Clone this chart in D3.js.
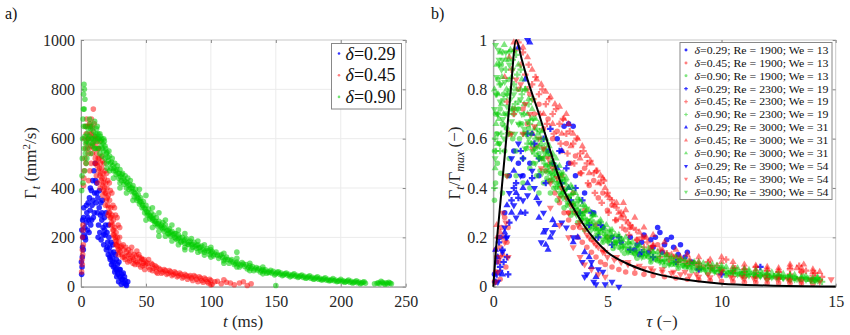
<!DOCTYPE html>
<html lang="en">
<head>
  <meta charset="UTF-8" />
  <title>Circulation vs time</title>
  <script src="https://d3js.org/d3.v7.min.js"></script>
  <style>
    body { margin: 0; background: #fff; }
    svg, svg text { font-family: "Liberation Serif", "DejaVu Serif", "Times New Roman", serif; }
    .tick text { font-size: 16px; fill: #262626; }
    .tick line { stroke: #888; }
    .domain { stroke: #999; }
  </style>
</head>
<body>
  <svg id="chart" width="850" height="335"></svg>
  <script>
    // ---- panel a: t (ms) vs Gamma_t (mm^2/s) ----
    const aXTicks = [0, 50, 100, 150, 200, 250];
    const aYTicks = [0, 200, 400, 600, 800, 1000];
    const aLabels = ["0.29", "0.45", "0.90"];

    const a029 = [[0.5,50],[0.8,80],[1,120],[1.2,160],[1.5,200],[1.3,270],[2,280],[2.5,210],[3,240],[3.5,190],[4,260],[4.5,300],[5,230],[5.5,340],[6,270],[6.5,360],[7,310],[7.5,250],[8,390],[8.5,330],[9,430],[9.5,280],[10,470],[10.5,380],[11,500],[11.5,340],[12,420],[12.5,300],[13,360],[13.5,250],[14,320],[14.5,220],[15,290],[15.5,190],[16,270],[16.5,350],[17,240],[17.5,170],[18,280],[18.5,210],[19,250],[19.5,150],[20,220],[20.5,180],[21,130],[21.5,200],[22,160],[22.5,110],[23,140],[23.5,90],[24,120],[24.5,170],[25,80],[25.5,100],[26,60],[26.5,130],[27,70],[27.5,40],[28,90],[28.5,50],[29,20],[29.5,70],[30,40],[31,10],[31.5,50],[32,30],[33,15],[34,25],[35,5],[36,20],
      [0.3,100],[0.6,230],[1.8,150],[2.2,320],[3.2,200],[4.2,330],[5.2,280],[6.2,220],[7.2,400],[8.2,270],[9.2,350],[10.2,300],[11.2,430],[12.2,380],[13.2,200],[14.2,390],[15.2,340],[16.2,300],[17.2,210],[18.2,230],[19.2,300],[20.2,160],[21.2,250],[22.2,120],[23.2,180],[24.2,100],[25.2,140],[26.2,80],[27.2,110],[28.2,60],[29.2,100],[30.2,70],[31.2,30],[32.5,55],[33.5,40],[34.5,10]];

    const a045 = [[0.5,60],[0.8,110],[1,150],[1.2,200],[1.5,250],[1.8,170],[2,410],[2.5,470],[3,520],[3.5,560],[4,620],[4.5,580],[5,650],[5.5,540],[6,600],[6.5,660],[7,620],[7.5,570],[8,680],[8.5,600],[9,640],[9.5,720],[10,560],[10.5,610],[11,520],[11.5,580],[12,540],[12.5,490],[13,560],[13.5,470],[14,520],[14.5,450],[15,500],[15.5,430],[16,480],[16.5,410],[17,460],[17.5,390],[18,440],[18.5,380],[19,420],[19.5,350],[20,400],[20.5,330],[21,370],[21.5,300],[22,350],[22.5,280],[23,320],[23.5,260],[24,290],[24.5,230],[25,270],[25.5,210],[26,240],[26.5,190],[27,220],[27.5,170],[28,200],[28.5,150],[29,180],[30,140],[31,165],[32,120],[33,150],[34,110],[35,140],[36,100],[37,130],[38,115],[39,160],[40,95],[41,130],[42,105],[43,145],[44,90],[45,120],[46,80],[47,110],[48,95],[49,70],[50,100],[52,80],[54,95],[55,65],[57,85],[58,60],[60,75],[62,55],[64,70],[66,50],[68,65],[70,45],[72,60],[74,40],[76,55],[78,35],[80,50],[82,30],[84,45],[86,25],[88,40],[90,20],[92,35],[94,18],[96,30],[98,15],[100,25],[101,10],[105,22],[108,12],[112,18],[118,8],[122,15],[128,5],[131,12],
      [1,90],[1.3,130],[1.6,230],[2.2,440],[2.8,600],[3.3,650],[3.8,500],[4.3,680],[5.2,600],[6.2,560],[7.2,650],[8.2,620],[9.2,580],[10.2,660],[11.2,600],[12.2,500],[13.2,520],[14.2,480],[15.2,460],[16.2,440],[17.2,420],[18.2,400],[19.2,380],[20.2,360],[21.2,320],[22.2,300],[23.2,280],[24.2,250],[25.2,230],[26.2,200],[27.2,185],[28.2,165],[29.2,150],[29.7,200],[30.5,160],[31.5,130],[32.5,170],[33.5,120],[34.5,160],[35.5,125],[36.5,150],[37.5,105],[38.5,140],[39.5,120],[40.5,110],[41.5,90],[42.5,125],[43.5,100],[44.5,130],[45.5,100],[46.5,115],[47.5,85],[48.5,110],[49.5,90],[51,95],[52,110],[53,70],[55,90],[56,75],[58,80],[59,55],[61,70],[63,60],[65,65],[67,55],[69,60],[71,50],[73,55],[75,45],[77,50],[79,40],[81,45],[83,40],[85,35],[87,45],[89,30],[91,40],[93,25],[95,35],[97,20],[99,30],[100,8],[103,20],[110,28],[115,15],[125,20],
      [10.8,500],[11.8,450],[12.8,420],[13.8,560],[14.8,400],[15.8,530],[16.8,370],[17.8,500],[18.8,330],[19.8,460],[20.8,290],[21.8,420],[22.8,250],[23.8,380],[24.8,210],[25.8,320],[26.8,170],[27.8,280],[28.8,130],[29.8,240],[12.6,600],[14.6,590],[16.6,510],[18.6,470],[20.6,430],[22.6,390],[24.6,330],[26.6,290],[28.6,250],[8.8,540],[7.8,500],[6.8,470],[5.8,430]];

    const a090 = [[0.5,390],[0.8,450],[1,520],[1.2,600],[1.5,680],[1.8,720],[2,780],[2.3,820],[2.6,800],[2.2,560],[2.8,470],[3,610],[3.3,540],[3.6,650],[4,500],[4.3,590],[4.7,620],[5,560],[5.5,640],[6,580],[6.5,610],[7,660],[7.5,540],[8,600],[8.5,650],[9,570],[9.5,630],[10,590],[10.5,670],[11,610],[11.5,560],[12,640],[12.5,590],[13,620],[13.5,560],[14,600],[14.5,540],[15,610],[15.5,570],[16,600],[16.5,530],[17,580],[17.5,550],[18,590],[18.5,520],[19,560],[19.5,500],[20,545],[21,510],[22,530],[23,480],[24,520],[25,470],[26,500],[27,455],[28,490],[29,440],[30,475],[31,430],[32,460],[33,415],[34,450],[35,400],[36,440],[37,395],[38,430],[39,385],[40,410],[41,365],[42,395],[43,350],[44,375],[45,335],[46,360],[47,320],[48,345],[49,300],[50,330],[51,290],[52,315],[53,275],[54,300],[55,270],[56,290],[57,255],[58,280],[59,245],[60,265],[62,240],[63,260],[64,225],[65,250],[67,215],[68,235],[69,205],[70,225],[72,200],[73,215],[74,190],[75,210],[77,185],[78,200],[80,175],[81,195],[83,170],[84,185],[86,160],[87,180],[89,155],[90,170],[92,145],[93,165],[95,140],[97,155],[99,130],[100,150],[102,125],[104,140],[106,115],[108,130],[110,105],[112,120],[114,95],[116,110],[118,90],[120,100],[122,80],[125,92],[128,72],[130,85],[133,65],[135,78],[138,60],[140,70],[143,55],[146,66],[149,48],[152,60],[155,45],[158,55],[161,40],[164,52],[167,38],[170,47],[173,34],[176,44],[179,30],[182,40],[185,27],[188,36],[191,24],[194,33],[197,20],[200,30],[203,18],[206,27],[209,15],[212,24],[215,12],[218,20],[228,14],[231,22],[234,10],[237,18],[239,12],
      [1.5,420],[2,650],[2.5,720],[3,760],[3.5,580],[4.5,520],[5.5,600],[6.5,680],[7.5,640],[8.5,580],[9.5,600],[10.5,560],[11.5,620],[12.5,650],[13.5,600],[14.5,620],[15.5,590],[16.5,560],[17.5,600],[18.5,570],[19.5,540],[20.5,525],[21.5,550],[22.5,500],[23.5,505],[24.5,490],[25.5,480],[26.5,470],[27.5,475],[28.5,460],[29.5,460],[30.5,445],[31.5,455],[32.5,440],[33.5,430],[34.5,425],[35.5,420],[36.5,410],[37.5,415],[38.5,400],[39.5,400],[40.5,385],[41.5,380],[42.5,370],[43.5,360],[44.5,355],[45.5,345],[46.5,340],[47.5,330],[48.5,320],[49.5,315],[50.5,305],[51.5,300],[52.5,290],[53.5,285],[54.5,280],[55.5,275],[56.5,265],[57.5,265],[58.5,255],[59.5,255],[61,245],[62,250],[63,235],[64,240],[66,228],[67,230],[68,215],[69,220],[71,210],[72,215],[73,195],[75,195],[76,200],[77,180],[79,185],[80,190],[82,172],[83,180],[85,170],[86,172],[88,162],[89,168],[91,158],[92,160],[94,150],[96,148],[98,145],[100,138],[101,142],[103,132],[105,128],[107,125],[109,118],[111,112],[113,110],[115,105],[117,100],[119,95],[121,92],[123,88],[124,98],[126,82],[127,90],[129,78],[131,75],[132,82],[134,72],[136,68],[137,74],[139,65],[141,62],[142,68],[144,60],[145,58],[147,56],[148,62],[150,52],[151,58],[153,50],[154,55],[156,48],[157,52],[159,46],[160,50],[162,44],[163,48],[165,42],[166,46],[168,40],[169,44],[171,38],[172,42],[174,36],[175,40],[177,34],[178,38],[180,32],[181,36],[183,30],[184,34],[186,28],[187,32],[189,26],[190,30],[192,25],[193,28],[195,24],[196,27],[198,22],[199,25],[201,21],[202,24],[204,20],[205,23],[207,18],[208,22],[210,17],[211,20],[213,16],[214,19],[216,15],[217,18],[219,14],[229,16],[230,12],[232,18],[233,14],[235,16],[236,12],[238,15],[226,12],[150,5],[120,140],[80,150],[30,420],[60,205],
      [45,395],[50,370],[55,320],[60,300],[65,270],[70,250],[75,230],[80,215],[85,195],[90,185],[95,170],[100,160],[110,135],[120,115],[130,95],[140,80],[50,270],[55,240],[60,225],[65,205],[70,185],[75,170],[80,160],[85,150],[90,140],[95,128],[100,120],[110,95],[120,80],[130,65],[140,52],[25,440],[30,400],[35,380],[40,350],[20,480],[22,470]];

    // ---- panel b: tau vs Gamma_t / Gamma_max ----
    const bXTicks = [0, 5, 10, 15];
    const bYTicks = [0, 0.2, 0.4, 0.6, 0.8, 1];
    const bDeltas = ["0.29", "0.45", "0.90"];
    const bRe = [1900, 2300, 3000, 3900];
    const bWe = [13, 19, 31, 54];

    const b029_1900 = [[0.05,0.05],[0.15,0.1],[0.3,0.2],[0.5,0.3],[0.7,0.45],[0.9,0.55],[1.1,0.5],[1.3,0.45],[1.6,0.5],[2,0.45],[2.4,0.55],[2.8,0.6],[3.1,0.65],[3.3,0.5],[3.6,0.45],[4,0.38],[4.4,0.3],[4.8,0.24],[5.2,0.2],[5.6,0.18],[6,0.2],[6.3,0.17],[6.6,0.21],[6.9,0.19],[7.2,0.24],[7.5,0.17],[7.8,0.2],[8.1,0.13],[8.4,0.12],[8.7,0.1],[6.8,0.14],[7.4,0.14],
      [6.2,0.15],[6.5,0.18],[7,0.16],[7.1,0.2],[7.6,0.19],[7.9,0.16],[8.2,0.17],[8.5,0.14],[6.4,0.13],[7.3,0.22],[3.3,0.66],[3.5,0.65]];
    const b045_1900 = [[0.05,0.02],[0.1,0.06],[0.15,0.12],[0.2,0.2],[0.25,0.1],[0.3,0.16],[0.35,0.24],[0.4,0.13],[0.45,0.2],[0.5,0.28],[0.55,0.08],[0.6,0.18],[0.65,0.24],[0.1,0.15],[0.3,0.03],[0.9,0.72],[1.1,0.8],[1.3,0.72],[1.5,0.66],[1.7,0.62],[1.9,0.57],[2.1,0.52],[2.3,0.47],[2.5,0.43],[2.7,0.38],[2.9,0.34],[3.1,0.3],[3.3,0.27],[3.5,0.24],[3.7,0.2],[3.9,0.18],[4.1,0.16],[4.3,0.14],[4.5,0.12],[4.7,0.1],[4.9,0.09],[5.2,0.08],[5.5,0.07],[5.8,0.06],[6.2,0.055],[6.6,0.05],[7,0.045],[7.5,0.04],[8,0.035],[8.5,0.03],[9,0.028],[9.5,0.025],[10,0.022],[10.5,0.02],[11,0.018],[11.5,0.017],[12,0.015],[12.5,0.015],[13,0.014],[13.5,0.013],[14,0.012],
      [1.6,0.78],[1.8,0.7],[2,0.74],[2.2,0.64],[2.4,0.68],[2.6,0.6],[2.8,0.63],[3,0.55],[3.2,0.58],[3.4,0.5],[3.6,0.53],[3.8,0.46],[4,0.48],[4.2,0.41],[4.4,0.43],[4.6,0.36],[4.8,0.38],[5,0.31],[5.2,0.33],[5.4,0.27],[5.6,0.28],[5.8,0.23],[6,0.24],[6.3,0.19],[6.6,0.2],[6.9,0.16],[7.2,0.17],[7.6,0.13],[8,0.12],[8.4,0.1],[8.8,0.095],[9.2,0.08],[9.6,0.075],[10,0.065],[10.5,0.06],[11,0.05],[11.5,0.045],[12,0.04],[12.5,0.038],[13,0.035],[13.5,0.06],[14,0.03],[2.5,0.5],[3,0.45],[3.5,0.38],[4,0.31],[4.5,0.25],[5,0.2],[3.3,0.3],[3.8,0.24],[4.3,0.19],[4.8,0.15]];
    const b090_1900 = [[0.05,0.35],[0.1,0.42],[0.18,0.5],[0.25,0.58],[0.32,0.46],[0.4,0.66],[0.5,0.55],[0.6,0.64],[0.7,0.52],[0.85,0.6],[1,0.55],[1.15,0.6],[1.3,0.52],[1.45,0.56],[1.6,0.48],[1.75,0.5],[1.9,0.45],[2.05,0.47],[2.2,0.42],[2.35,0.44],[2.5,0.38],[2.65,0.4],[2.8,0.35],[2.95,0.37],[3.1,0.32],[3.25,0.33],[3.4,0.29],[3.55,0.3],[3.7,0.26],[3.85,0.27],[4,0.23],[4.2,0.24],[4.4,0.2],[4.6,0.21],[4.8,0.18],[5,0.185],[5.25,0.155],[5.5,0.16],[5.75,0.135],[6,0.14],[6.3,0.115],[6.6,0.12],[6.9,0.1],[7.2,0.105],[7.5,0.085],[7.8,0.09],[8.1,0.075],[8.4,0.08],[8.7,0.065],[9,0.07],[9.4,0.055],[9.8,0.06],[10.2,0.045],[10.6,0.05],[11,0.04],[11.5,0.042],[12,0.032],[12.5,0.035],[13,0.027],[13.5,0.03],[14,0.022],
      [0.05,0.55],[0.1,0.7],[0.15,0.62],[0.2,0.84],[0.3,0.72],[0.35,0.9],[0.45,0.78],[0.55,0.7],[0.65,0.84],[0.75,0.62],[0.9,0.7],[1.1,0.72],[1.25,0.66],[1.4,0.62],[1.55,0.64],[1.7,0.58],[1.85,0.56],[2,0.54],[2.15,0.52],[2.3,0.49],[2.45,0.46],[2.6,0.45],[2.75,0.42],[2.9,0.4],[3.05,0.38],[3.2,0.36],[3.35,0.34],[3.5,0.33],[3.65,0.31],[3.8,0.29],[3.95,0.28],[4.1,0.26],[4.3,0.25],[4.5,0.23],[4.7,0.22],[4.9,0.2],[5.1,0.19],[5.35,0.18],[5.6,0.165],[5.9,0.15],[6.2,0.135],[6.5,0.13],[6.8,0.12],[7.1,0.11],[7.4,0.1],[7.7,0.095],[8,0.09],[8.3,0.085],[8.6,0.08],[8.9,0.075],[9.2,0.07],[9.6,0.065],[10,0.06],[10.4,0.055],[10.8,0.05],[11.2,0.048],[11.7,0.045],[12.2,0.04],[12.7,0.038],[13.2,0.035],[13.7,0.03],[14.2,0.03],[1,0.45],[1.3,0.42],[1.6,0.4],[2,0.38],[0.6,0.45],[0.4,0.38]];
    const b029_2300 = [[0.1,0.02],[0.3,0.08],[0.4,0.15],[0.6,0.12],[0.8,0.35],[1,0.42],[1.2,0.55],[1.5,0.62],[1.8,0.58],[2.2,0.6],[2.6,0.5],[3,0.42],[3.4,0.35],[3.8,0.3],[4.2,0.25],[4.6,0.2],[5.2,0.17],[6,0.15],[7,0.12],[8,0.1],[9,0.07],[10,0.05],[11.7,0.08],
      [0.15,0.05],[0.25,0.18],[0.45,0.1],[0.55,0.2],[0.65,0.05],[0.7,0.26],[0.9,0.4],[1.1,0.36],[1.3,0.52],[1.4,0.3],[1.7,0.44],[2,0.52],[2.3,0.42],[2.5,0.64],[2.9,0.55],[3.2,0.48],[3.6,0.4],[3.9,0.35],[4.3,0.3],[4.7,0.25],[5.5,0.2],[6.5,0.14]];
    const b045_2300 = [[0.6,0.75],[0.8,0.88],[0.95,0.96],[1.1,0.99],[1.2,0.9],[1.3,0.95],[1.4,0.86],[1.55,0.9],[1.7,0.82],[1.85,0.85],[2,0.78],[2.15,0.8],[2.3,0.74],[2.45,0.76],[2.6,0.7],[2.75,0.72],[2.9,0.66],[3.05,0.68],[3.2,0.62],[3.35,0.63],[3.5,0.58],[3.65,0.6],[3.8,0.54],[3.95,0.55],[4.1,0.5],[4.25,0.51],[4.4,0.46],[4.55,0.47],[4.7,0.42],[4.85,0.43],[5,0.38],[5.2,0.35],[5.4,0.32],[5.6,0.3],[5.8,0.27],[6,0.25],[6.25,0.23],[6.5,0.2],[6.75,0.18],[7,0.165],[7.3,0.15],[7.6,0.135],[7.9,0.12],[8.2,0.11],[8.6,0.1],[9,0.09],[9.4,0.1],[9.8,0.085],[10.2,0.11],[10.6,0.075],[11,0.07],[11.5,0.08],[12,0.065],[12.5,0.06],[13,0.07],[13.4,0.085],[13.7,0.065],[14.1,0.055],
      [1.5,0.8],[1.75,0.76],[2.05,0.7],[2.35,0.66],[2.65,0.62],[2.95,0.58],[3.25,0.54],[3.55,0.5],[3.85,0.46],[4.15,0.42],[4.45,0.38],[4.75,0.34],[5.05,0.3],[5.35,0.27],[5.65,0.24],[5.95,0.21],[6.3,0.19],[6.6,0.16],[6.9,0.15],[7.3,0.12],[7.7,0.11],[8.1,0.1],[8.5,0.09],[9,0.08],[9.5,0.075],[10,0.07],[10.5,0.065],[11,0.06],[11.5,0.055],[12,0.05],[12.5,0.045],[13,0.05],[13.5,0.06],[14,0.045],[14.4,0.04],[0.7,0.62],[0.9,0.7]];
    const b090_2300 = [[0.05,0.4],[0.12,0.55],[0.2,0.7],[0.28,0.82],[0.35,0.62],[0.45,0.76],[0.55,0.88],[0.65,0.7],[0.75,0.8],[0.85,0.92],[0.95,0.74],[1.05,0.86],[1.15,0.66],[1.25,0.78],[1.35,0.7],[1.45,0.62],[1.55,0.74],[1.65,0.58],[1.75,0.68],[1.85,0.6],[1.95,0.53],[2.05,0.63],[2.15,0.56],[2.25,0.5],[2.35,0.58],[2.45,0.47],[2.55,0.53],[2.65,0.44],[2.75,0.49],[2.85,0.41],[2.95,0.46],[3.05,0.38],[3.15,0.43],[3.3,0.36],[3.45,0.4],[3.6,0.32],[3.75,0.35],[3.9,0.29],[4.05,0.32],[4.2,0.26],[4.35,0.29],[4.5,0.24],[4.7,0.26],[4.9,0.21],[5.1,0.23],[5.3,0.18],[5.5,0.2],[5.7,0.16],[5.9,0.18],[6.1,0.14],[6.4,0.16],[6.7,0.13],[7,0.14],[7.3,0.11],[7.6,0.12],[7.9,0.095],[8.2,0.11],[8.5,0.085],[8.8,0.095],[9.1,0.07],[9.4,0.085],[9.7,0.065],[10,0.075],[10.3,0.055],[10.6,0.065],[10.9,0.05],[11.2,0.06],[11.5,0.045],[11.8,0.055],[12.1,0.04],[12.4,0.05],[12.7,0.035],[13,0.045],[13.3,0.03],[13.6,0.04],[13.9,0.025],[14.2,0.035],[14.4,0.02],
      [0.08,0.6],[0.15,0.78],[0.25,0.9],[0.3,0.55],[0.4,0.95],[0.5,0.65],[0.6,0.78],[0.7,0.95],[0.8,0.72],[0.9,0.82],[1,0.94],[1.1,0.75],[1.2,0.88],[1.3,0.62],[1.4,0.8],[1.5,0.58],[1.6,0.66],[1.7,0.76],[1.8,0.54],[1.9,0.64],[2,0.57],[2.1,0.6],[2.2,0.52],[2.3,0.55],[2.4,0.53],[2.5,0.49],[2.6,0.5],[2.7,0.46],[2.8,0.45],[2.9,0.43],[3,0.44],[3.1,0.39],[3.2,0.4],[3.4,0.37],[3.5,0.34],[3.7,0.33],[3.8,0.3],[4,0.3],[4.1,0.27],[4.3,0.27],[4.4,0.24],[4.6,0.23],[4.8,0.23],[5,0.2],[5.2,0.21],[5.4,0.18],[5.6,0.19],[5.8,0.16],[6,0.17],[6.3,0.15],[6.6,0.14],[6.9,0.125],[7.2,0.125],[7.5,0.105],[7.8,0.11],[8.1,0.1],[8.4,0.095],[8.7,0.09],[9,0.085],[9.3,0.075],[9.6,0.075],[9.9,0.065],[10.2,0.065],[10.5,0.055],[10.8,0.058],[11.1,0.05],[11.4,0.052],[11.7,0.045],[12,0.048],[12.3,0.042],[12.6,0.04],[12.9,0.038],[13.2,0.036],[13.5,0.034],[13.8,0.032],[14.1,0.028],[14.3,0.026]];
    const b029_3000 = [[0.2,0.12],[0.5,0.22],[0.8,0.3],[1,0.38],[1.3,0.4],[1.6,0.99],[2,0.28],[2.2,0.22],[2.5,0.2],[2.4,0.15],[2.7,0.25],[3,0.55],[3.3,0.4],[3.7,0.2],[4,0.14],[4.3,0.08],[1.7,0.62],[1.1,0.97],[1.4,0.84],
      [0.1,0.15],[0.4,0.05],[0.6,0.33],[0.9,0.47],[1.2,0.3],[1.5,0.42],[1.9,0.36],[2.3,0.17],[2.6,0.27],[3.5,0.18],[4.2,0.12],[4.5,0.04],[2.8,0.48]];
    const b045_3000 = [[0.15,0.25],[0.3,0.22],[0.5,0.85],[0.7,0.93],[0.9,0.99],[1.3,0.97],[1.5,0.93],[1.7,0.88],[1.9,0.84],[2.1,0.82],[2.3,0.79],[2.5,0.77],[2.7,0.74],[2.9,0.73],[3.1,0.68],[3.3,0.66],[3.5,0.62],[3.7,0.6],[3.9,0.57],[4.1,0.53],[4.3,0.5],[4.5,0.47],[4.7,0.45],[4.9,0.4],[5.1,0.36],[5.3,0.33],[5.5,0.3],[5.7,0.29],[5.9,0.26],[6.1,0.24],[6.4,0.22],[6.7,0.2],[7,0.17],[7.4,0.15],[7.8,0.13],[8.2,0.12],[8.6,0.11],[9,0.1],[9.5,0.09],[10,0.1],[10.5,0.08],[11,0.075],[11.5,0.07],[12,0.07],[12.5,0.065],[13,0.08],[13.3,0.075],[13.6,0.09],[14,0.07],[14.3,0.06],
      [2.2,0.7],[2.6,0.66],[3,0.62],[3.4,0.57],[3.8,0.52],[4.2,0.46],[4.6,0.42],[5,0.37],[5.4,0.34],[5.8,0.31],[6.2,0.28],[6.6,0.24],[7,0.21],[7.5,0.18],[8,0.15],[8.5,0.13],[9,0.12],[9.5,0.11],[10,0.12],[10.5,0.1],[11,0.09],[11.5,0.085],[12,0.08],[12.5,0.075],[13,0.09],[13.5,0.075],[14,0.06],[5.7,0.34],[4.8,0.44],[3.2,0.7]];
    const b090_3000 = [[0.08,0.48],[0.15,0.9],[0.22,0.78],[0.3,0.95],[0.38,0.85],[0.48,0.98],[0.58,0.8],[0.68,0.92],[0.8,0.85],[0.92,0.96],[1.1,0.9],[1.25,0.84],[1.4,0.8],[1.55,0.76],[1.7,0.72],[1.85,0.68],[2,0.66],[2.15,0.63],[2.3,0.6],[2.45,0.57],[2.6,0.54],[2.75,0.52],[2.9,0.49],[3.05,0.46],[3.2,0.44],[3.4,0.41],[3.6,0.38],[3.8,0.35],[4,0.33],[4.2,0.31],[4.45,0.29],[4.7,0.27],[4.95,0.25],[5.2,0.23],[5.5,0.21],[5.8,0.2],[6.1,0.18],[6.4,0.17],[6.8,0.155],[7.2,0.14],[7.6,0.13],[8,0.12],[8.4,0.11],[8.8,0.1],[9.2,0.095],[9.6,0.09],[10,0.085],[10.5,0.075],[11,0.07],[11.5,0.065],[12,0.055],[12.5,0.05],[13,0.045],[13.5,0.04],[14,0.035],
      [0.05,0.8],[0.12,0.66],[0.18,0.58],[0.25,0.68],[0.35,0.74],[0.45,0.7],[0.55,0.92],[0.65,0.78],[0.75,0.96],[0.85,0.72],[1,0.8],[1.2,0.8],[1.35,0.74],[1.5,0.7],[1.65,0.68],[1.8,0.64],[1.95,0.62],[2.1,0.58],[2.25,0.56],[2.4,0.54],[2.55,0.51],[2.7,0.48],[2.85,0.46],[3,0.45],[3.15,0.42],[3.3,0.4],[3.5,0.38],[3.7,0.36],[3.9,0.33],[4.1,0.31],[4.35,0.29],[4.6,0.26],[4.85,0.24],[5.1,0.22],[5.35,0.21],[5.65,0.19],[5.95,0.18],[6.25,0.165],[6.6,0.15],[7,0.14],[7.4,0.13],[7.8,0.12],[8.2,0.11],[8.6,0.1],[9,0.1],[9.4,0.09],[9.8,0.085],[10.2,0.08],[10.7,0.075],[11.2,0.068],[11.7,0.062],[12.2,0.058],[12.7,0.052],[13.2,0.048],[13.7,0.042],[14.2,0.038]];
    const b029_3900 = [[0.3,0.06],[0.5,0.24],[0.7,0.38],[0.9,0.33],[1.2,0.45],[1.5,0.37],[2,0.34],[2.3,0.23],[2.1,0.18],[3,0.26],[3.5,0.2],[3.9,0.1],[4.1,0.05],[4.4,0.02],[4.6,0.07],[4.9,0.01],[5.5,0.0],[1.5,1],[0.8,0.52],
      [0.2,0.02],[0.4,0.14],[0.6,0.2],[1,0.28],[1.3,0.35],[1.8,0.4],[2.2,0.3],[2.6,0.22],[3.2,0.24],[4,0.04],[4.3,0.1],[4.5,0.01],[4.8,0.06],[5.2,0.02],[1.1,0.58],[1.7,0.47]];
    const b045_3900 = [[0.2,0.06],[0.4,0.3],[0.6,0.45],[0.8,0.62],[1,0.84],[1.2,0.82],[1.4,0.74],[1.6,0.7],[1.8,0.65],[2,0.6],[2.2,0.56],[2.4,0.52],[2.6,0.48],[2.8,0.44],[3,0.4],[3.2,0.36],[3.4,0.33],[3.6,0.3],[3.8,0.26],[4,0.23],[4.2,0.2],[4.4,0.18],[4.6,0.16],[4.8,0.14],[5,0.12],[5.3,0.11],[5.6,0.1],[5.9,0.09],[6.2,0.08],[6.6,0.075],[7,0.065],[7.4,0.06],[7.8,0.055],[8.2,0.05],[8.6,0.045],[9,0.04],[9.5,0.038],[10,0.06],[10.5,0.035],[11,0.032],[11.5,0.03],[12,0.028],[12.5,0.03],[13,0.025],[13.5,0.022],[14.8,0.03],
      [0.1,0.02],[0.3,0.12],[0.5,0.18],[0.55,0.26],[0.65,0.12],[3.5,0.16],[3.8,0.12],[4,0.09],[4.3,0.07],[4.6,0.05],[4.9,0.04],[3.3,0.2],[2.9,0.25],[2.5,0.32],[1.3,0.62],[1.7,0.56],[2.1,0.48],[2.5,0.42],[2.9,0.36],[3.3,0.3],[3.7,0.25],[4.1,0.21],[4.5,0.17],[4.9,0.14],[5.4,0.12],[5.9,0.1],[6.4,0.085],[6.9,0.075],[7.4,0.07],[7.9,0.06],[8.4,0.06],[8.9,0.05],[9.4,0.05],[9.9,0.045],[10.4,0.04],[10.9,0.04],[11.4,0.035],[11.9,0.04],[12.4,0.035],[12.9,0.03],[13.4,0.03],[13.9,0.028],[14.3,0.02]];
    const b090_3900 = [[0.05,0.72],[0.1,0.98],[0.15,0.85],[0.2,0.62],[0.25,0.92],[0.3,0.75],[0.36,0.88],[0.42,0.68],[0.5,0.83],[0.6,0.73],[0.7,0.9],[0.8,0.67],[0.9,0.78],[1.05,0.72],[1.2,0.76],[1.35,0.64],[1.5,0.67],[1.65,0.62],[1.8,0.56],[1.95,0.6],[2.1,0.52],[2.25,0.54],[2.4,0.49],[2.55,0.46],[2.7,0.47],[2.85,0.42],[3,0.43],[3.15,0.39],[3.35,0.37],[3.55,0.34],[3.75,0.31],[3.95,0.3],[4.15,0.27],[4.4,0.26],[4.65,0.23],[4.9,0.22],[5.15,0.2],[5.4,0.18],[5.7,0.17],[6,0.155],[6.3,0.14],[6.7,0.13],[7.1,0.115],[7.5,0.105],[7.9,0.1],[8.3,0.088],[8.7,0.08],[9.1,0.078],[9.5,0.07],[9.9,0.072],[10.4,0.06],[10.9,0.055],[11.4,0.05],[11.9,0.045],[12.4,0.04],[12.9,0.04],[13.4,0.033],[13.9,0.03],[14.2,0.025],
      [0.08,0.52],[0.12,0.78],[0.18,0.7],[0.22,0.96],[0.28,0.58],[0.33,0.82],[0.4,0.92],[0.47,0.6],[0.55,0.95],[0.65,0.62],[0.75,0.76],[0.85,0.88],[0.95,0.62],[1.1,0.66],[1.25,0.7],[1.4,0.56],[1.55,0.6],[1.7,0.55],[1.85,0.5],[2,0.52],[2.15,0.46],[2.3,0.47],[2.45,0.43],[2.6,0.43],[2.75,0.4],[2.9,0.38],[3.05,0.36],[3.25,0.34],[3.45,0.31],[3.65,0.29],[3.85,0.27],[4.05,0.25],[4.3,0.23],[4.55,0.21],[4.8,0.19],[5.05,0.18],[5.3,0.165],[5.6,0.15],[5.9,0.14],[6.2,0.13],[6.5,0.12],[6.9,0.11],[7.3,0.1],[7.7,0.09],[8.1,0.085],[8.5,0.08],[8.9,0.07],[9.3,0.065],[9.7,0.06],[10.2,0.055],[10.7,0.05],[11.2,0.045],[11.7,0.042],[12.2,0.038],[12.7,0.035],[13.2,0.03],[13.7,0.028],[14.1,0.024]];

    // fitted model curve
    const fitTau = [0, 0.1, 0.25, 0.5, 0.75, 1, 1.25, 1.5, 2, 2.5, 3, 3.5, 4, 5, 6, 7, 8, 10, 12, 15];
    const fitVal = [0, 0.13, 0.28, 0.53, 0.78, 1, 0.92, 0.84, 0.70, 0.55, 0.41, 0.32, 0.245, 0.14, 0.088, 0.055, 0.035, 0.012, 0.005, 0.001];

    const blue = "#0000ff", red = "#ff0000", green = "#00cc00";
    const serif = "'Liberation Serif', 'DejaVu Serif', serif";
    const svg = d3.select("#chart");

    function frame(x, y, xt, yt, yfmt) {
      const g = svg.append("g");
      const [x0, x1] = x.range(), [y0, y1] = y.range();
      g.selectAll(".gx").data(xt.slice(1, -1)).enter().append("line")
        .attr("x1", d => x(d)).attr("x2", d => x(d)).attr("y1", y0).attr("y2", y1)
        .attr("stroke", "#ebebeb");
      g.selectAll(".gy").data(yt.slice(1, -1)).enter().append("line")
        .attr("y1", d => y(d)).attr("y2", d => y(d)).attr("x1", x0).attr("x2", x1)
        .attr("stroke", "#ebebeb");
      g.append("rect").attr("x", x0).attr("y", y1).attr("width", x1 - x0).attr("height", y0 - y1)
        .attr("fill", "none").attr("stroke", "#c8c8c8");
      g.append("g").attr("transform", `translate(0,${y1})`)
        .call(d3.axisTop(x).tickValues(xt).tickSize(-3).tickFormat(""))
        .call(s => s.select(".domain").remove());
      g.append("g").attr("transform", `translate(${x1},0)`)
        .call(d3.axisRight(y).tickValues(yt).tickSize(-3).tickFormat(""))
        .call(s => s.select(".domain").remove());
      svg.append("g").attr("transform", `translate(0,${y0})`)
        .call(d3.axisBottom(x).tickValues(xt).tickSize(-3).tickSizeOuter(0).tickPadding(9).tickFormat(d3.format("d")))
        .attr("font-family", serif);
      svg.append("g").attr("transform", `translate(${x0},0)`)
        .call(d3.axisLeft(y).tickValues(yt).tickSize(-3).tickSizeOuter(0).tickPadding(6).tickFormat(yfmt))
        .attr("font-family", serif);
    }

    // ===== panel a =====
    const xa = d3.scaleLinear().domain([0, 250]).range([81, 405.7]);
    const ya = d3.scaleLinear().domain([0, 1000]).range([286.7, 40]);
    frame(xa, ya, aXTicks, aYTicks, d3.format("d"));

    const aSeries = [
      { data: a029, color: blue, op: 0.8 },
      { data: a045, color: red, op: 0.5 },
      { data: a090, color: green, op: 0.55 }
    ];
    const pa = svg.append("g");
    aSeries.forEach(s => {
      pa.append("g").selectAll("circle").data(s.data).enter().append("circle")
        .attr("cx", d => xa(d[0])).attr("cy", d => ya(d[1])).attr("r", 2.8)
        .attr("fill", s.color).attr("fill-opacity", s.op);
    });

    const la = svg.append("g").attr("font-family", serif);
    la.append("rect").attr("x", 331.5).attr("y", 43.5).attr("width", 70).attr("height", 65.5)
      .attr("fill", "#fff").attr("stroke", "#888");
    aLabels.forEach((lab, i) => {
      const cy = 53.5 + i * 21.7;
      la.append("circle").attr("cx", 339).attr("cy", cy).attr("r", 1.3)
        .attr("fill", aSeries[i].color).attr("fill-opacity", aSeries[i].op);
      const t = la.append("text").attr("x", 345.5).attr("y", cy + 6).attr("font-size", 18).attr("fill", "#111");
      t.append("tspan").attr("font-style", "italic").text("δ");
      t.append("tspan").text("=" + lab);
    });

    const xla = svg.append("text").attr("x", 243).attr("y", 327).attr("text-anchor", "middle")
      .attr("font-size", 17).attr("fill", "#262626").attr("font-family", serif);
    xla.append("tspan").attr("font-style", "italic").text("t");
    xla.append("tspan").text(" (ms)");
    const yla = svg.append("text").attr("transform", "translate(36,163) rotate(-90)")
      .attr("text-anchor", "middle").attr("font-size", 17).attr("fill", "#262626").attr("font-family", serif);
    yla.append("tspan").text("Γ");
    yla.append("tspan").attr("font-style", "italic").attr("font-size", 12).attr("dy", 4).text("t");
    yla.append("tspan").attr("dy", -4).text(" (mm");
    yla.append("tspan").attr("font-size", 11).attr("dy", -6).text("2");
    yla.append("tspan").attr("dy", 6).text("/s)");

    svg.append("text").attr("x", 5).attr("y", 19).attr("font-size", 16).attr("fill", "#111")
      .attr("font-family", serif).text("a)");
    svg.append("text").attr("x", 431).attr("y", 19).attr("font-size", 16).attr("fill", "#111")
      .attr("font-family", serif).text("b)");

    // ===== panel b =====
    const xb = d3.scaleLinear().domain([0, 15]).range([493.3, 835.7]);
    const yb = d3.scaleLinear().domain([0, 1]).range([286.7, 40]);
    frame(xb, yb, bXTicks, bYTicks, d => d === 0 || d === 1 ? d3.format("d")(d) : d3.format(".1f")(d));

    const bData = [b029_1900, b045_1900, b090_1900, b029_2300, b045_2300, b090_2300,
                   b029_3000, b045_3000, b090_3000, b029_3900, b045_3900, b090_3900];
    const shapes = [
      { type: d3.symbolCircle, rot: 0, size: 24 },
      { type: d3.symbolCross, rot: 0, size: 24 },
      { type: d3.symbolTriangle, rot: 0, size: 22 },
      { type: d3.symbolTriangle, rot: 180, size: 22 }
    ];
    const bColors = [blue, red, green];
    const bOps = [0.8, 0.5, 0.5];

    const pb = svg.append("g");
    bData.forEach((data, i) => {
      const sh = shapes[Math.floor(i / 3)], col = bColors[i % 3];
      const sym = d3.symbol().type(sh.type).size(sh.size);
      pb.append("g").selectAll("path").data(data).enter().append("path")
        .attr("d", sym)
        .attr("transform", d => `translate(${xb(d[0])},${yb(d[1])}) rotate(${sh.rot})`)
        .attr("fill", col).attr("fill-opacity", bOps[i % 3]);
    });

    const fit = fitTau.map((t, i) => [t, fitVal[i]]);
    svg.append("path").datum(fit)
      .attr("fill", "none").attr("stroke", "#000").attr("stroke-width", 2)
      .attr("d", d3.line().x(d => xb(d[0])).y(d => yb(d[1])).curve(d3.curveMonotoneX));

    const lb = svg.append("g").attr("font-family", serif);
    lb.append("rect").attr("x", 680).attr("y", 42.5).attr("width", 152).attr("height", 157)
      .attr("fill", "#fff").attr("stroke", "#888");
    bData.forEach((d, i) => {
      const cy = 50 + i * 12.9;
      const sh = shapes[Math.floor(i / 3)];
      lb.append("path").attr("d", d3.symbol().type(sh.type).size(7))
        .attr("transform", `translate(686,${cy}) rotate(${sh.rot})`)
        .attr("fill", bColors[i % 3]).attr("fill-opacity", bOps[i % 3]);
      const t = lb.append("text").attr("x", 694.5).attr("y", cy + 3.8).attr("font-size", 11)
        .attr("fill", "#111").attr("textLength", 134).attr("lengthAdjust", "spacingAndGlyphs");
      t.append("tspan").attr("font-style", "italic").text("δ");
      t.append("tspan").text(`=${bDeltas[i % 3]}; Re = ${bRe[Math.floor(i / 3)]}; We = ${bWe[Math.floor(i / 3)]}`);
    });

    const xlb = svg.append("text").attr("x", 662).attr("y", 327).attr("text-anchor", "middle")
      .attr("font-size", 17).attr("fill", "#262626").attr("font-family", serif);
    xlb.append("tspan").attr("font-style", "italic").text("τ");
    xlb.append("tspan").text(" (−)");
    const ylb = svg.append("text").attr("transform", "translate(460,163) rotate(-90)")
      .attr("text-anchor", "middle").attr("font-size", 17).attr("fill", "#262626").attr("font-family", serif);
    ylb.append("tspan").text("Γ");
    ylb.append("tspan").attr("font-style", "italic").attr("font-size", 12).attr("dy", 4).text("t");
    ylb.append("tspan").attr("dy", -4).text("/Γ");
    ylb.append("tspan").attr("font-style", "italic").attr("font-size", 12).attr("dy", 4).text("max");
    ylb.append("tspan").attr("dy", -4).text(" (−)");
  </script>
</body>
</html>
